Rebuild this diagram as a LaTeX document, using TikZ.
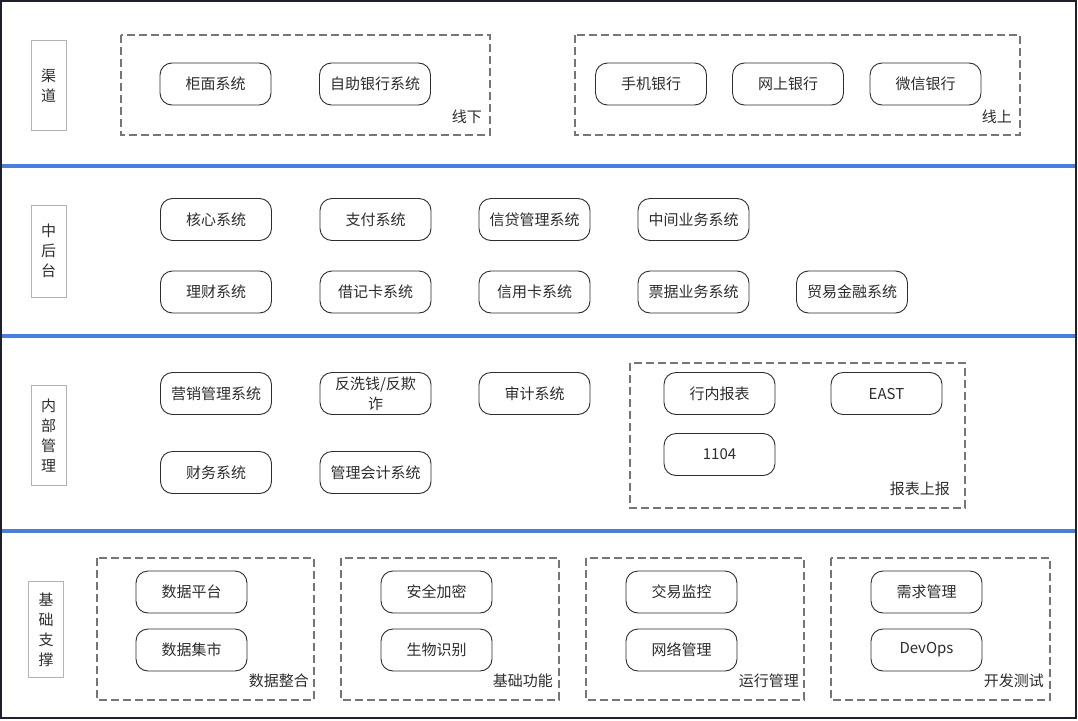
\documentclass[tikz,border=0pt]{standalone}
\usepackage{fontspec}
\setmainfont{Noto Sans CJK SC}
\usepackage{tikz}
\definecolor{layerblue}{RGB}{74, 126, 222}
\definecolor{dashgray}{RGB}{118, 118, 118}
\definecolor{boxgray}{RGB}{178, 178, 178}
\definecolor{inkgray}{RGB}{45, 45, 45}
\definecolor{framedark}{RGB}{30, 32, 45}

\tikzset{
  sysbox/.style={rectangle, rounded corners=12pt, draw=inkgray, line width=0.9pt, minimum width=111pt, minimum height=42pt, inner sep=2pt, align=center, text=inkgray, font=\fontsize{15}{20}\selectfont},
  layerlabel/.style={rectangle, draw=boxgray, line width=0.8pt, minimum width=35pt, inner sep=0pt, align=center, text=inkgray, font=\fontsize{15}{20}\selectfont},
  groupbox/.style={draw=dashgray, line width=1.3pt, dash pattern=on 8pt off 4pt},
  grouplabel/.style={anchor=south east, inner sep=0pt, text=inkgray, font=\fontsize{15}{17}\selectfont},
  layerline/.style={draw=layerblue, line width=4pt}
}

\begin{document}
\begin{tikzpicture}[x=1pt, y=-1pt]
    \useasboundingbox (0,0) rectangle (1078,720);
    \fill[white] (0,0) rectangle (1078,720);

    % layer separators and frame
    \draw[layerline] (1,166) -- (1076,166);
    \draw[layerline] (1,336) -- (1076,336);
    \draw[layerline] (1,531) -- (1076,531);
    \draw[framedark, line width=1.5pt] (1,1) rectangle (1076,718);

    % 渠道
    \node[layerlabel, minimum height=90pt] (lay-channel) at (48.5,85.5) {渠\\道};
    \draw[groupbox] (121,35) rectangle (490,135);
    \node[grouplabel] (lbl-offline) at (482,124) {线下};
    \node[sysbox] (counter) at (215.5,84) {柜面系统};
    \node[sysbox] (selfbank) at (375,84) {自助银行系统};
    \draw[groupbox] (575,35) rectangle (1020,135);
    \node[grouplabel] (lbl-online) at (1012,124) {线上};
    \node[sysbox] (mobile) at (651,84) {手机银行};
    \node[sysbox] (webbank) at (788,84) {网上银行};
    \node[sysbox] (wechat) at (925.5,84) {微信银行};

    % 中后台
    \node[layerlabel, minimum height=92pt] (lay-midback) at (48.5,251) {中\\后\\台};
    \node[sysbox] (core) at (216,219.5) {核心系统};
    \node[sysbox] (payment) at (375.5,219.5) {支付系统};
    \node[sysbox] (loan) at (534.5,219.5) {信贷管理系统};
    \node[sysbox] (midbiz) at (693.5,219.5) {中间业务系统};
    \node[sysbox] (wealth) at (216,292) {理财系统};
    \node[sysbox] (debit) at (375.5,292) {借记卡系统};
    \node[sysbox] (creditcard) at (534.5,292) {信用卡系统};
    \node[sysbox] (bill) at (693.5,292) {票据业务系统};
    \node[sysbox] (tradefin) at (852,292) {贸易金融系统};

    % 内部管理
    \node[layerlabel, minimum height=100pt] (lay-internal) at (48.5,435.5) {内\\部\\管\\理};
    \node[sysbox] (marketing) at (216,393.5) {营销管理系统};
    \node[sysbox] (antifraud) at (375.5,393.5) {反洗钱/反欺\\诈};
    \node[sysbox] (audit) at (534.5,393.5) {审计系统};
    \node[sysbox] (finance) at (216,472.5) {财务系统};
    \node[sysbox] (mgmtacct) at (375.5,472.5) {管理会计系统};
    \draw[groupbox] (630,363) rectangle (965,508);
    \node[grouplabel] (lbl-report) at (950,496) {报表上报};
    \node[sysbox] (inreport) at (719.5,393.5) {行内报表};
    \node[sysbox] (east) at (886.5,393.5) {EAST};
    \node[sysbox] (r1104) at (719.5,454.5) {1104};

    % 基础支撑
    \node[layerlabel, minimum height=96pt] (lay-support) at (46,629.5) {基\\础\\支\\撑};
    \draw[groupbox] (97,558) rectangle (314,700);
    \node[grouplabel] (lbl-data) at (309,688) {数据整合};
    \node[sysbox] (dataplat) at (191.5,592) {数据平台};
    \node[sysbox] (datamart) at (191.5,650) {数据集市};
    \draw[groupbox] (341,558) rectangle (559,700);
    \node[grouplabel] (lbl-basic) at (553,688) {基础功能};
    \node[sysbox] (security) at (436.5,592) {安全加密};
    \node[sysbox] (biometric) at (436.5,650) {生物识别};
    \draw[groupbox] (586,558) rectangle (804,700);
    \node[grouplabel] (lbl-ops) at (799,688) {运行管理};
    \node[sysbox] (txmonitor) at (681.5,592) {交易监控};
    \node[sysbox] (netmgmt) at (681.5,650) {网络管理};
    \draw[groupbox] (831,558) rectangle (1050,700);
    \node[grouplabel] (lbl-dev) at (1044,688) {开发测试};
    \node[sysbox] (reqmgmt) at (926.5,592) {需求管理};
    \node[sysbox] (devops) at (926.5,650) {DevOps};
  \end{tikzpicture}
\end{document}
